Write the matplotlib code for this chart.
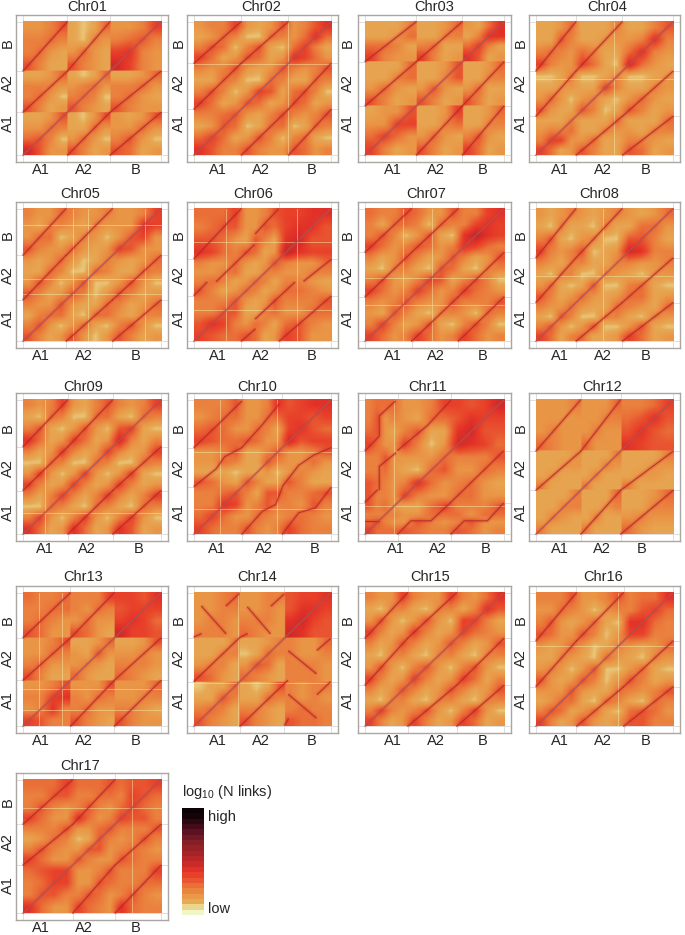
import numpy as np
import matplotlib
matplotlib.use("Agg")
import matplotlib.pyplot as plt
from matplotlib.colors import ListedColormap, LinearSegmentedColormap

plt.rcParams['font.family'] = ['Liberation Sans', 'DejaVu Sans']
plt.rcParams['mathtext.default'] = 'regular'

W, H = 685, 935
N_BINS = 100

names = ["Chr%02d" % i for i in range(1, 18)]

# end of A1 and A2 on the genome axis, as a fraction of the chromosome
a1_end = [.322, .344, .369, .292, .312, .344, .335, .292, .325, .349, .234, .327, .344, .335, .307, .296, .360]
a2_end = [.630, .688, .700, .630, .648, .620, .670, .629, .650, .644, .617, .617, .661, .658, .659, .639, .666]

# link level per block, 0 pale to 9 red, top row first (4x4 cells for each of the 3x3 blocks)
heat = {
    "Chr01": ["2235 1014 2236", "3343 1032 3453", "3421 2421 6732", "5311 5321 8632",
              "1124 1014 1124", "3332 2342 3342", "3420 3430 3421", "5312 5321 5322",
              "1125 1025 2125", "2243 1142 2242", "4530 2420 3520", "8522 5312 5412"],
    "Chr02": ["2336 2125 2357", "1243 0043 2474", "3540 3510 4631", "6412 5412 7642",
              "3235 2125 3235", "1143 0043 1143", "3530 2651 4530", "6412 5412 5412",
              "3345 2135 3235", "1254 0144 0143", "4641 2530 3410", "7533 5322 5423"],
    "Chr03": ["1113 1124 2147", "1124 1133 1377", "4431 3411 4631", "6322 6312 7512",
              "1114 1125 1124", "1134 1135 1133", "2421 2521 2411", "5312 5312 5312",
              "1225 1126 1124", "2266 1134 1133", "4642 2421 3521", "6312 5312 6412"],
    "Chr04": ["1124 1113 1135", "1153 1122 2373", "3432 4311 4732", "6322 6410 8421",
              "0013 0013 0012", "1122 1163 1132", "2420 2310 2421", "5211 5301 5312",
              "1113 1114 1114", "2334 1132 2133", "3662 2411 3321", "6412 5311 5412"],
    "Chr05": ["3224 3223 2236", "2133 2132 2276", "2440 1320 2562", "5322 4212 6522",
              "2124 2013 2124", "1143 0043 1143", "2530 2500 2520", "5312 5302 5312",
              "3225 2114 3124", "1344 1044 2133", "3520 2410 3520", "5312 5202 5312"],
    "Chr06": ["4446 2235 6677", "3455 2254 6775", "5542 1531 7855", "7643 5412 9766",
              "3224 2125 3224", "2234 1133 2233", "3431 2431 3321", "5312 4312 4432",
              "3335 2125 3335", "3355 1134 2244", "5763 2431 4532", "6544 5412 6522"],
    "Chr07": ["4335 4225 3367", "3144 3043 3676", "3530 2510 7976", "6423 5423 7643",
              "3125 3125 3125", "1033 1054 1033", "3521 3651 3530", "6423 6423 6432",
              "3235 3225 3335", "2153 1033 2043", "3631 2510 3530", "6423 6423 6423"],
    "Chr08": ["2123 2123 2124", "1031 1031 1442", "3510 2300 5531", "6323 5012 8733",
              "3213 3113 3223", "1033 0032 1022", "2410 1500 3410", "5312 4212 4412",
              "3224 2114 3214", "1053 0033 1032", "3520 2500 2510", "6413 4112 6412"],
    "Chr09": ["3236 2135 3236", "1043 0044 1043", "3510 2520 5610", "7412 6412 8313",
              "3126 3126 3126", "0043 0043 0043", "2620 2620 2610", "6312 6312 6312",
              "3136 3136 3136", "0043 1043 1043", "3620 3620 3620", "7412 7412 7512"],
    "Chr10": ["3335 2237 5677", "2344 2244 6656", "4542 2431 6754", "6544 5422 8566",
              "2235 1135 2235", "2243 1153 2242", "1110 1120 2321", "5421 5311 5311",
              "3345 3155 3345", "3376 2353 3253", "4642 2432 3432", "6433 5323 6433"],
    "Chr11": ["3444 2236 6568", "3523 2144 5766", "4521 3511 7855", "6422 6302 8764",
              "3352 2224 3335", "3342 1045 2243", "5432 3742 3421", "5332 6322 4422",
              "5342 1146 3335", "3333 2244 4244", "4532 2532 3522", "6444 5433 5423"],
    "Chr12": ["2223 2224 3346", "2222 2233 4575", "2322 2322 5754", "4322 4222 7655",
              "1112 1113 1113", "1122 1132 1122", "1211 1311 1221", "3111 3111 3111",
              "1113 1114 1124", "1133 1123 1133", "1321 1311 2322", "3111 3111 4211"],
    "Chr13": ["4334 3336 6657", "3344 3243 5666", "3432 2422 6764", "5422 5421 8665",
              "2235 1124 1125", "2243 2152 2232", "3422 2321 3332", "5311 4211 4321",
              "2235 2225 2224", "3367 3243 2233", "2373 3422 3321", "6533 5321 5322"],
    "Chr14": ["2234 2233 5667", "2233 2232 5776", "2332 3332 7865", "3332 4322 8755",
              "1113 1123 3224", "1133 0143 3223", "2331 2541 3332", "5421 4321 3332",
              "0114 1015 3233", "1153 1143 3232", "3431 3321 3433", "5321 5321 5443"],
    "Chr15": ["3226 3226 3247", "1033 1033 1375", "2520 2520 6631", "6312 6312 6432",
              "3125 3125 3125", "1033 1033 1033", "2520 3520 3520", "6312 6312 6413",
              "3125 3125 3125", "1033 1033 1033", "3632 3520 3620", "6312 6312 6412"],
    "Chr16": ["3335 2235 3447", "2243 2023 3564", "3521 2410 7743", "5422 5302 6633",
              "2124 2013 2124", "1132 1042 1032", "2320 2500 2410", "5212 5302 5312",
              "2225 2114 3235", "1244 1043 1043", "3541 2410 4542", "6312 5212 5533"],
    "Chr17": ["4446 4445 4556", "3355 3344 3654", "3532 3532 4643", "6422 7423 6553",
              "3335 2245 3335", "1243 0153 2353", "3532 2552 3432", "6422 5322 5433",
              "4566 2235 3336", "3466 2254 3344", "3553 3542 3532", "7422 6432 7433"],
}

# panels whose blocks meet in a hard edge
hard_edges = ["Chr01", "Chr03", "Chr12", "Chr13", "Chr14"]

# poorly covered bins show as pale stripes in both directions
pale_bins = {
    "Chr02": [.686], "Chr04": [.57], "Chr05": [.36, .88, .47], "Chr06": [.235, .748],
    "Chr07": [.275, .48], "Chr08": [.49], "Chr09": [.157], "Chr10": [.1875, .608],
    "Chr11": [.21], "Chr13": [.119, .28], "Chr14": [.325], "Chr16": [.6],
    "Chr17": [.786],
}

# synteny ridges that do not run corner to corner in their block (x values, y values)
odd_ridges = {
    "Chr06": [([0, .096], [.345, .446]), ([.163, .44], [.45, .728]), ([.447, .615], [.81, .997]),
              ([.344, .447], [0, .093]), ([.447, .736], [.169, .446]), ([.80, 1], [.453, .617]),
              ([.62, 1], [0, .34]), ([0, .344], [.622, 1])],
    "Chr10": [([0, .163, .224, .349], [.354, .487, .576, .644]), ([.349, .5, .62], [.644, .816, .967]),
              ([.644, .764, .873, 1], [.354, .513, .588, .644]), ([.644, .764, .885, 1], [0, .16, .197, .348]),
              ([.349, .5, .596, .644], [0, .172, .222, .348]), ([0, .163, .349], [.644, .803, .99])],
    "Chr11": [([0, .103, .103, .218], [.62, .73, .88, .99]), ([0, .09], [.2375, .33]),
              ([.103, .103, .222], [.33, .505, .605]), ([.234, .45, .617], [.6225, .81, .995]),
              ([.234, .33, .474, .617], [0, .1, .1, .2375]), ([.617, .713, .88, .995], [0, .1, .1, .23]),
              ([.617, .995], [.2375, .6175]), ([0, .1], [.1, .1])],
    "Chr14": [([0, .335, .39], [.335, .665, .693]), ([.335, .684], [0, .344]),
              ([.689, .892], [.564, .394]), ([.897, .995], [.569, .656]),
              ([.689, .892], [.239, .062]), ([.897, .995], [.237, .332]), ([.66, .689], [.007, .057]),
              ([.055, .234], [.9, .693]), ([.234, .33], [.9, .993]), ([0, .055], [.668, .693]),
              ([.39, .557], [.893, .693]), ([.562, .658], [.9, .99])],
}

frame_left = [16, 187, 358, 529]
frame_right = [168, 338, 511, 680]
frame_top = [15, 202, 393, 586, 773]
frame_bottom = [162, 348, 541, 733, 920]
title_y = [7, 194, 387, 577, 766]
title_x = [87, 261, 434, 607, 80, 253, 426, 599, 83, 257, 428, 602, 83, 257, 430, 603, 80]
xlab_x = [[41, 84, 136], [218, 261, 312], [393, 436, 483], [560, 603, 646]]
xlab_row3 = [[45, 87, 139], [217, 264, 315], [396, 438, 486], [560, 602, 642]]
ylab_x = [8, 179, 348, 521]
ylab_y = [[43, 83, 123], [235, 275, 318], [428, 468, 512], [620, 658, 700], [802, 842, 885]]
block_names = ["A1", "A2", "B"]

# colour key, low to high
bar_colors = ["#f1f6c8", "#ebd68c", "#e6a955", "#e99a48", "#ea8540", "#ea7038", "#e85530", "#e8402a",
              "#e03028", "#cc2a28", "#b82628", "#a62428", "#962228", "#842026", "#701a26", "#5c1222",
              "#440c1a", "#2c0812", "#14040a", "#0a0204"]
smooth = LinearSegmentedColormap.from_list("links", bar_colors, N=256)


def to_bins(mat, edges, hard):
    # cell centres sit at 1/8, 3/8.. of each block, spread them out on the genome axis
    pos = (np.arange(N_BINS) + 0.5) / N_BINS
    if hard:
        out = np.zeros((N_BINS, mat.shape[1]))
        fine = np.zeros((N_BINS, N_BINS))
        for b in range(3):
            sel = (pos >= edges[b]) & (pos <= edges[b + 1])
            nodes = edges[b] + (np.arange(4) + 0.5) / 4 * (edges[b + 1] - edges[b])
            for j in range(mat.shape[1]):
                out[sel, j] = np.interp(pos[sel], nodes, mat[b * 4:b * 4 + 4, j])
        for b in range(3):
            sel = (pos >= edges[b]) & (pos <= edges[b + 1])
            nodes = edges[b] + (np.arange(4) + 0.5) / 4 * (edges[b + 1] - edges[b])
            for i in range(N_BINS):
                fine[i, sel] = np.interp(pos[sel], nodes, out[i, b * 4:b * 4 + 4])
        return fine
    nodes = np.concatenate([edges[b] + (np.arange(4) + 0.5) / 4 * (edges[b + 1] - edges[b]) for b in range(3)])
    out = np.array([np.interp(pos, nodes, mat[:, j]) for j in range(mat.shape[1])]).T
    return np.array([np.interp(pos, nodes, out[i]) for i in range(N_BINS)])


fig = plt.figure(figsize=(W / 100, H / 100), dpi=100)


def px_axes(left, top, right, bottom):
    return fig.add_axes([left / W, 1 - bottom / H, (right - left) / W, (bottom - top) / H])


def label(x, y, s, **kw):
    fig.text(x / W, 1 - y / H, s, ha=kw.pop('ha', 'center'), va='center', fontsize=kw.pop('fontsize', 10.5),
             color='#262626', **kw)


def ridge(ax, xs, ys):
    ax.plot(xs, ys, color='#e03028', lw=3.5, alpha=0.14, zorder=3, solid_capstyle='butt')
    ax.plot(xs, ys, color='#d42c28', lw=1.8, alpha=0.22, zorder=3, solid_capstyle='butt')
    ax.plot(xs, ys, color='#a9252b', lw=0.7, alpha=0.8, zorder=3)


for i, name in enumerate(names):
    row, col = i // 4, i % 4
    ax = px_axes(frame_left[col], frame_top[row], frame_right[col], frame_bottom[row])
    edges = [0, a1_end[i], a2_end[i], 1]

    # rows are typed top first, the bins run from the bottom
    mat = np.array([[int(c) for c in r.replace(" ", "")] for r in heat[name]], dtype=float)[::-1]
    fine = to_bins(mat, edges, name in hard_edges)
    ax.imshow(fine, origin='lower', extent=[0, 1, 0, 1], cmap=smooth, vmin=-1.5, vmax=19, aspect='auto',
              interpolation='bilinear', zorder=1)

    for s in pale_bins.get(name, []):
        ax.plot([s, s], [0, 1], color='#f5e6a6', lw=0.6, alpha=0.6, zorder=2)
        ax.plot([0, 1], [s, s], color='#f5e6a6', lw=0.6, alpha=0.6, zorder=2)

    # ridges between the homoeologous blocks
    if name in odd_ridges:
        for xs, ys in odd_ridges[name]:
            ridge(ax, xs, ys)
    else:
        for c in range(3):
            for r in range(3):
                if r != c:
                    ridge(ax, edges[c:c + 2], edges[r:r + 2])
    ax.plot([0, 1], [0, 1], color='#e03028', lw=2.5, alpha=0.2, zorder=3, solid_capstyle='butt')
    ax.plot([0, 1], [0, 1], color='#a8545a', lw=0.9, alpha=0.85, zorder=3)

    for e in edges:
        ax.axvline(e, color='#dedede', lw=0.7, zorder=0)
        ax.axhline(e, color='#dedede', lw=0.7, zorder=0)

    ax.set_xlim(-0.05, 1.05)
    ax.set_ylim(-0.05, 1.05)
    ax.set_xticks([])
    ax.set_yticks([])
    for sp in ax.spines.values():
        sp.set_color('#aaa6a2')
        sp.set_linewidth(1.0)

    label(title_x[i], title_y[row], name)
    xs = xlab_row3[col] if row == 2 else xlab_x[col]
    for k, b in enumerate(block_names):
        label(xs[k], frame_bottom[row] + 8, b)
        label(ylab_x[col], ylab_y[row][2 - k], b, rotation=90)

# colour key
cax = px_axes(182, 808, 204, 915)
cax.imshow(np.arange(len(bar_colors))[::-1].reshape(-1, 1), cmap=ListedColormap(bar_colors), aspect='auto',
           interpolation='nearest')
cax.axis('off')
label(182, 792, r'log$_{10}$ (N links)', ha='left')
label(208, 817, 'high', ha='left')
label(208, 909, 'low', ha='left')

fig.savefig("out.png", dpi=100)
